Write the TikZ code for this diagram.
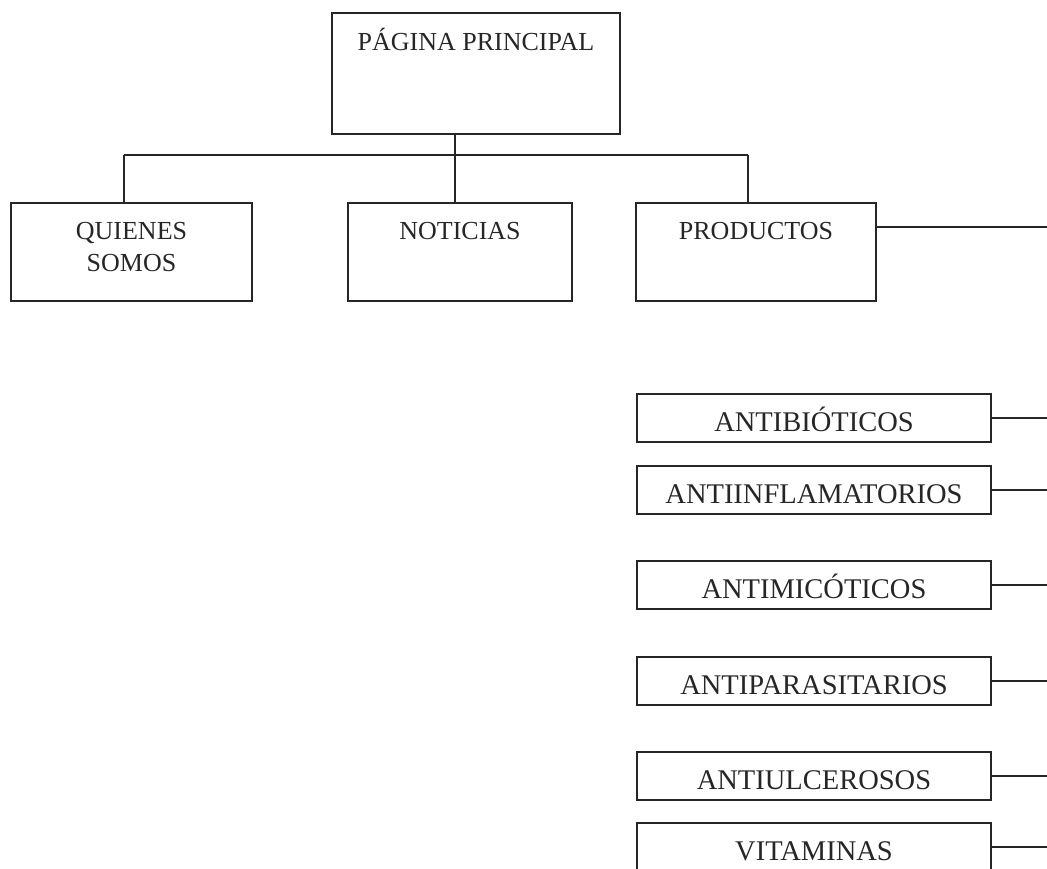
\documentclass[tikz,border=0pt]{standalone}
\usepackage{fontspec}
\setmainfont{Liberation Serif}
\begin{document}
\begin{tikzpicture}[x=1pt,y=-1pt,
  line width=1.3pt,
  box/.style={draw=black!85, rectangle, inner sep=0pt, line width=1.4pt},
  topbox/.style={box, minimum height=98pt},
  catbox/.style={box, minimum width=354pt, minimum height=48pt},
  toptext/.style={font=\fontsize{26}{32}\selectfont, text=black!85, anchor=base, inner sep=0pt, align=center},
  cattext/.style={font=\fontsize{28.5}{32}\selectfont, text=black!85, anchor=base, inner sep=0pt},
  link/.style={draw=black!85, line width=1.3pt}]
\useasboundingbox (0,0) rectangle (1047,868);
% top level
\node[box, minimum width=288pt, minimum height=121pt] (pp) at (476,73.5) {};
\node[toptext] (ppt) at (476,50.6) {PÁGINA PRINCIPAL};
% second level
\node[topbox, minimum width=241pt] (qs) at (131.5,252) {};
\node[toptext] (qst) at (131.5,271) {QUIENES\\SOMOS};
\node[topbox, minimum width=224pt] (nt) at (460,252) {};
\node[toptext] (ntt) at (460,239) {NOTICIAS};
\node[topbox, minimum width=240pt] (pr) at (756,252) {};
\node[toptext] (prt) at (756,239) {PRODUCTOS};
% connectors of the tree
\coordinate (hl) at (124,155);
\coordinate (hr) at (748,155);
\coordinate (j) at (455,155);
\coordinate (edge) at (1047,0);
\draw[link] (hl) -- (hr);
\draw[link] (hl) -- (hl |- qs.north);
\draw[link] (hr) -- (hr |- pr.north);
\draw[link] (j |- pp.south) -- (j |- nt.north);
\draw[link] (pr.east |- 0,227) -- (edge |- 0,227);
% categories
\foreach \n/\y/\t in {ab/418/ANTIBIÓTICOS, ai/490/ANTIINFLAMATORIOS, am/585/ANTIMICÓTICOS,
                      ap/681/ANTIPARASITARIOS, au/776/ANTIULCEROSOS, vi/847/VITAMINAS}{
  \node[catbox] (\n) at (814,\y) {};
  \node[cattext] (\n t) at (814,\y+13.5) {\t};
  \draw[link] (\n.east) -- (\n.east -| edge);
}
\end{tikzpicture}
\end{document}
